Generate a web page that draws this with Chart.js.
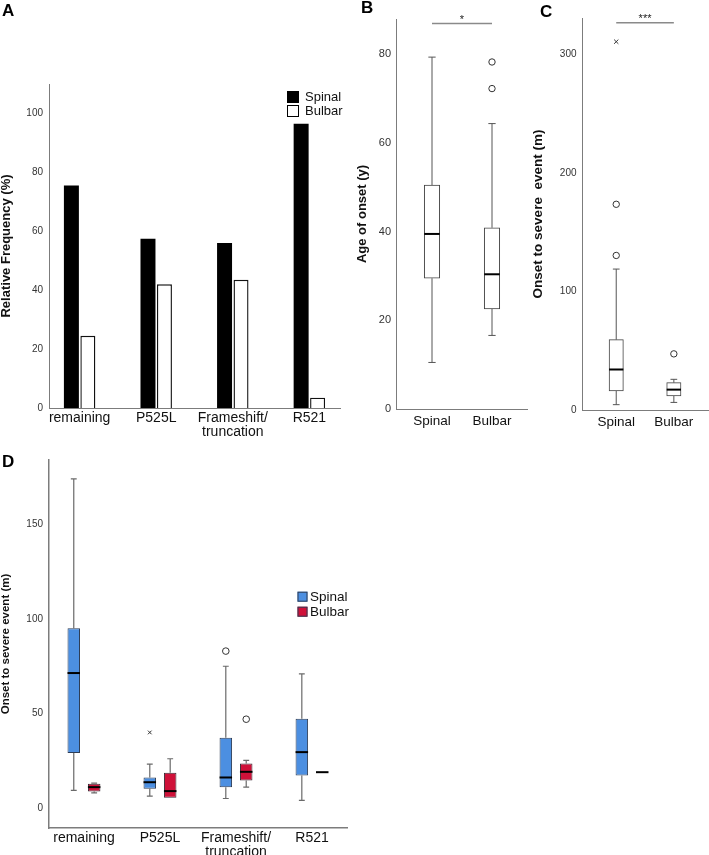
<!DOCTYPE html>
<html>
<head>
<meta charset="utf-8">
<script src="https://cdn.jsdelivr.net/npm/chart.js@4.4.1/dist/chart.umd.min.js"></script>
<style>
html,body{margin:0;padding:0;background:#fff;}
#wrap{position:relative;width:709px;height:855px;overflow:hidden;font-family:'Liberation Sans',Arial,Helvetica,sans-serif;}
canvas{position:absolute;}
.lbl{position:absolute;font-weight:bold;font-size:17px;line-height:17px;color:#000;}
</style>
</head>
<body>
<div id="wrap">
  <canvas id="cA" width="345" height="440" style="left:0;top:0"></canvas>
  <canvas id="cB" width="172" height="440" style="left:356px;top:0"></canvas>
  <canvas id="cC" width="181" height="440" style="left:528px;top:0"></canvas>
  <canvas id="cD" width="350" height="405" style="left:0;top:450px"></canvas>
  <div class="lbl" style="left:2px;top:2px">A</div>
  <div class="lbl" style="left:361px;top:-1px">B</div>
  <div class="lbl" style="left:540px;top:3px">C</div>
  <div class="lbl" style="left:2px;top:453px">D</div>
</div>
<script>
// ---------------- DATA ----------------
// Panel A: relative frequency (%)
const aCategories = ['remaining', 'P525L', 'Frameshift/truncation', 'R521'];
const aSpinal = [75.5, 57.5, 56, 96.5];
const aBulbar = [24.5, 42, 43.5, 3.5];
const aYTicks = [0, 20, 40, 60, 80, 100];

// Panel B: age of onset (y)
const bGroups = ['Spinal', 'Bulbar'];
const bMin = [10.5, 16.6];
const bQ1 = [29.5, 22.6];
const bMedian = [39.5, 30.4];
const bQ3 = [50.5, 40.9];
const bMax = [79.4, 64.4];
const bCircleGroup = [1, 1];
const bCircleValue = [78.3, 72.3];
const bYTicks = [0, 20, 40, 60, 80];

// Panel C: onset to severe event (m)
const cGroups = ['Spinal', 'Bulbar'];
const cMin = [4.5, 6.4];
const cQ1 = [16.2, 11.9];
const cMedian = [34.2, 17.2];
const cQ3 = [59.4, 23.1];
const cMax = [119, 25.9];
const cCircleGroup = [0, 0, 1];
const cCircleValue = [173.7, 130.5, 47.4];
const cCrossGroup = [0];
const cCrossValue = [311];
const cYTicks = [0, 100, 200, 300];

// Panel D: onset to severe event (m) by mutation group
const dCategories = ['remaining', 'P525L', 'Frameshift/truncation', 'R521'];
const dSpinalMin = [9.4, 6.3, 5.1, 4.1];
const dSpinalQ1 = [29.1, 10.2, 11.1, 17.3];
const dSpinalMedian = [71.4, 13.7, 16.2, 29.6];
const dSpinalQ3 = [95.1, 16.2, 37.2, 47.2];
const dSpinalMax = [174, 23.3, 75, 71];
const dBulbarMin = [8.1, 5.3, 11.1, 19];
const dBulbarQ1 = [8.8, 5.5, 14.6, 19];
const dBulbarMedian = [11.1, 9, 19.2, 19];
const dBulbarQ3 = [12.9, 18.7, 23.6, 19];
const dBulbarMax = [13.2, 26.1, 25.2, 19];
const dSpinalCircleGroup = [2];
const dSpinalCircleValue = [83];
const dSpinalCrossGroup = [1];
const dSpinalCrossValue = [40];
const dBulbarCircleGroup = [2];
const dBulbarCircleValue = [47];
const dYTicks = [0, 50, 100, 150];

// ---------------- SETUP ----------------
const FONT = "'Liberation Sans', Arial, Helvetica, sans-serif";
Chart.defaults.font.family = FONT;
Chart.defaults.color = '#222';
Chart.defaults.animation = false;
Chart.defaults.responsive = false;
Chart.defaults.devicePixelRatio = 1;
Chart.defaults.layout.autoPadding = false;
Chart.defaults.plugins.legend.display = false;
Chart.defaults.plugins.tooltip.enabled = false;

function splitLabel(s) {
  const i = s.indexOf('/');
  return i >= 0 && i < s.length - 1 ? [s.slice(0, i + 1), s.slice(i + 1)] : s;
}

// whiskers + medians for floating-bar boxes
const boxPlugin = {
  id: 'boxWhiskers',
  beforeDatasetsDraw(chart) {
    const ctx = chart.ctx, ys = chart.scales.y;
    chart.data.datasets.forEach((ds, di) => {
      if (!ds.whiskerMin) return;
      const meta = chart.getDatasetMeta(di);
      meta.data.forEach((bar, i) => {
        const x = bar.x, w = bar.width, cap = w * 0.47;
        const lo = ys.getPixelForValue(ds.whiskerMin[i]);
        const hi = ys.getPixelForValue(ds.whiskerMax[i]);
        const q1 = ys.getPixelForValue(ds.data[i].y[0]);
        const q3 = ys.getPixelForValue(ds.data[i].y[1]);
        ctx.save();
        ctx.strokeStyle = ds.whiskerColor || '#555';
        ctx.lineWidth = ds.whiskerWidth || 1;
        ctx.beginPath();
        if (q3 - hi > 0.5) {
          ctx.moveTo(x, q3); ctx.lineTo(x, hi);
          ctx.moveTo(x - cap / 2, hi); ctx.lineTo(x + cap / 2, hi);
        }
        if (lo - q1 > 0.5) {
          ctx.moveTo(x, q1); ctx.lineTo(x, lo);
          ctx.moveTo(x - cap / 2, lo); ctx.lineTo(x + cap / 2, lo);
        }
        ctx.stroke();
        ctx.restore();
      });
    });
  },
  afterDatasetsDraw(chart) {
    const ctx = chart.ctx, ys = chart.scales.y;
    chart.data.datasets.forEach((ds, di) => {
      if (!ds.median) return;
      const meta = chart.getDatasetMeta(di);
      meta.data.forEach((bar, i) => {
        const x = bar.x, w = bar.width;
        const m = ys.getPixelForValue(ds.median[i]);
        ctx.save();
        ctx.strokeStyle = '#000';
        ctx.lineWidth = 2;
        ctx.beginPath();
        ctx.moveTo(x - w / 2, m); ctx.lineTo(x + w / 2, m);
        ctx.stroke();
        ctx.restore();
      });
    });
  }
};

// legend drawn from datasets flagged inLegend
const legendPlugin = {
  id: 'panelLegend',
  afterDraw(chart, args, o) {
    if (!o || o.left === undefined) return;
    const ctx = chart.ctx;
    const items = chart.data.datasets.filter(d => d.inLegend);
    ctx.save();
    ctx.font = o.fontSize + 'px ' + FONT;
    ctx.textBaseline = 'middle';
    ctx.textAlign = 'left';
    items.forEach((d, k) => {
      const top = o.top + k * o.row;
      ctx.fillStyle = d.backgroundColor;
      ctx.fillRect(o.left, top, o.box, o.box);
      ctx.strokeStyle = o.boxBorder;
      ctx.lineWidth = 1;
      ctx.strokeRect(o.left + 0.5, top + 0.5, o.box - 1, o.box - 1);
      ctx.fillStyle = '#111';
      ctx.fillText(d.label, o.textLeft, top + o.box / 2 + 0.5);
    });
    ctx.restore();
  }
};

// significance bar
const sigPlugin = {
  id: 'sigBar',
  afterDraw(chart, args, o) {
    if (!o || o.text === undefined) return;
    const ctx = chart.ctx, xs = chart.scales.x, ys = chart.scales.y;
    const x1 = xs.getPixelForValue(o.from), x2 = xs.getPixelForValue(o.to);
    const y = ys.getPixelForValue(o.value);
    ctx.save();
    ctx.strokeStyle = '#8a8a8a';
    ctx.lineWidth = 1.5;
    ctx.beginPath(); ctx.moveTo(x1, y); ctx.lineTo(x2, y); ctx.stroke();
    ctx.fillStyle = '#222';
    ctx.font = '11px ' + FONT;
    ctx.textAlign = 'center';
    ctx.textBaseline = 'middle';
    ctx.fillText(o.text, (x1 + x2) / 2, y - 3.5);
    ctx.restore();
  }
};

function yAxis(min, max, ticks, title, titleSize, titlePad, width, tickPad, borderW, tickSize) {
  return {
    type: 'linear', min, max, bounds: 'data',
    afterBuildTicks: s => { s.ticks = ticks.map(v => ({ value: v })); },
    afterFit: s => { s.width = width; s.paddingTop = 0; s.paddingBottom = 0; s.paddingLeft = 0; s.paddingRight = 0; },
    grid: { display: false, drawTicks: false },
    border: { display: true, color: '#7c7c7c', width: borderW },
    ticks: { padding: tickPad, color: '#333', font: { size: tickSize || 10 } },
    title: { display: true, text: title, color: '#111', padding: { top: titlePad, bottom: 0 },
             font: { size: titleSize, weight: 'bold', lineHeight: 1 } }
  };
}
function xAxis(min, max, cats, height, fontSize, pad, borderW) {
  return {
    type: 'linear', min, max, bounds: 'data', offset: false,
    afterBuildTicks: s => { s.ticks = cats.map((c, i) => ({ value: i })); },
    afterFit: s => { s.height = height; s.paddingLeft = 0; s.paddingRight = 0; s.paddingTop = 0; s.paddingBottom = 0; },
    grid: { display: false, drawTicks: false, offset: false },
    border: { display: true, color: '#7c7c7c', width: borderW },
    ticks: { padding: pad, color: '#111', autoSkip: false, maxRotation: 0,
             font: { size: fontSize, lineHeight: 1 },
             callback: (v, i) => splitLabel(cats[i]) }
  };
}
function pts(groups, values, off) {
  return groups.map((g, i) => ({ x: g + (off || 0), y: values[i] }));
}

// ---------------- PANEL A ----------------
new Chart(document.getElementById('cA'), {
  type: 'bar',
  data: {
    datasets: [
      { label: 'Spinal', inLegend: true, data: aSpinal.map((v, i) => ({ x: i, y: v })),
        backgroundColor: '#000', borderColor: '#000', borderWidth: 0,
        categoryPercentage: 0.43, barPercentage: 0.91 },
      { label: 'Bulbar', inLegend: true, data: aBulbar.map((v, i) => ({ x: i, y: v })),
        backgroundColor: '#fff', borderColor: '#111', borderWidth: 1.4,
        categoryPercentage: 0.43, barPercentage: 0.91 }
    ]
  },
  options: {
    layout: { autoPadding: false, padding: { left: 0, top: 84, right: 5, bottom: 0 } },
    scales: {
      x: xAxis(-0.4, 3.4, aCategories, 32, 14, 3, 1),
      y: yAxis(0, 110, aYTicks, 'Relative Frequency (%)', 13, 0, 49, 6, 1)
    },
    plugins: {
      panelLegend: { left: 287, top: 91, box: 12, row: 14, textLeft: 305, fontSize: 13, boxBorder: '#000' }
    }
  },
  plugins: [legendPlugin]
});

// ---------------- PANEL B ----------------
new Chart(document.getElementById('cB'), {
  type: 'bar',
  data: {
    datasets: [
      { label: 'Age of onset', data: bQ1.map((q, i) => ({ x: i, y: [q, bQ3[i]] })),
        whiskerMin: bMin, whiskerMax: bMax, median: bMedian, whiskerColor: '#555',
        backgroundColor: '#fff', borderColor: '#444', borderWidth: 1, borderSkipped: false,
        barThickness: 15.5 },
      { type: 'scatter', label: 'Outliers', data: pts(bCircleGroup, bCircleValue),
        pointStyle: 'circle', radius: 3.2, backgroundColor: '#fff', borderColor: '#333', borderWidth: 1 }
    ]
  },
  options: {
    layout: { autoPadding: false, padding: { left: 0, top: 19, right: 0, bottom: 0 } },
    scales: {
      x: xAxis(-0.6, 1.6, bGroups, 31, 13.5, 6, 1),
      y: yAxis(0, 88, bYTicks, 'Age of onset (y)', 13, 0, 40, 5, 1, 11)
    },
    plugins: { sigBar: { from: 0, to: 1, value: 87, text: '*' } }
  },
  plugins: [boxPlugin, sigPlugin]
});

// ---------------- PANEL C ----------------
new Chart(document.getElementById('cC'), {
  type: 'bar',
  data: {
    datasets: [
      { label: 'Onset to severe event', data: cQ1.map((q, i) => ({ x: i, y: [q, cQ3[i]] })),
        whiskerMin: cMin, whiskerMax: cMax, median: cMedian, whiskerColor: '#555',
        backgroundColor: '#fff', borderColor: '#444', borderWidth: 1, borderSkipped: false,
        barThickness: 14.3 },
      { type: 'scatter', label: 'Outliers', data: pts(cCircleGroup, cCircleValue),
        pointStyle: 'circle', radius: 3.2, backgroundColor: '#fff', borderColor: '#333', borderWidth: 1 },
      { type: 'scatter', label: 'Extremes', data: pts(cCrossGroup, cCrossValue),
        pointStyle: 'crossRot', radius: 3, borderColor: '#333', borderWidth: 1 }
    ]
  },
  options: {
    layout: { autoPadding: false, padding: { left: 0, top: 18, right: 0, bottom: 0 } },
    scales: {
      x: xAxis(-0.594, 1.61, cGroups, 30, 13.5, 6, 1),
      y: yAxis(0, 331, cYTicks, 'Onset to severe  event (m)', 13.5, 3.5, 54, 5.5, 1)
    },
    plugins: { sigBar: { from: 0, to: 1, value: 327, text: '***' } }
  },
  plugins: [boxPlugin, sigPlugin]
});

// ---------------- PANEL D ----------------
const dCatPct = 0.537;
const dOff = dCatPct / 4;
new Chart(document.getElementById('cD'), {
  type: 'bar',
  data: {
    datasets: [
      { label: 'Spinal', inLegend: true, data: dSpinalQ1.map((q, i) => ({ x: i, y: [q, dSpinalQ3[i]] })),
        whiskerMin: dSpinalMin, whiskerMax: dSpinalMax, median: dSpinalMedian, whiskerColor: '#6a6a6a', whiskerWidth: 1.2,
        backgroundColor: '#4c8fe1', borderColor: '#2e3d55', borderWidth: 1, borderSkipped: false,
        categoryPercentage: dCatPct, barPercentage: 0.613 },
      { label: 'Bulbar', inLegend: true, data: dBulbarQ1.map((q, i) => ({ x: i, y: [q, dBulbarQ3[i]] })),
        whiskerMin: dBulbarMin, whiskerMax: dBulbarMax, median: dBulbarMedian, whiskerColor: '#6a6a6a', whiskerWidth: 1.2,
        backgroundColor: '#cf1139', borderColor: '#3a2a35', borderWidth: 1, borderSkipped: false,
        categoryPercentage: dCatPct, barPercentage: 0.613 },
      { type: 'scatter', label: 'Spinal outliers', data: pts(dSpinalCircleGroup, dSpinalCircleValue, -dOff),
        pointStyle: 'circle', radius: 3.3, backgroundColor: '#fff', borderColor: '#333', borderWidth: 1 },
      { type: 'scatter', label: 'Spinal extremes', data: pts(dSpinalCrossGroup, dSpinalCrossValue, -dOff),
        pointStyle: 'crossRot', radius: 2.6, borderColor: '#333', borderWidth: 1 },
      { type: 'scatter', label: 'Bulbar outliers', data: pts(dBulbarCircleGroup, dBulbarCircleValue, dOff),
        pointStyle: 'circle', radius: 3.3, backgroundColor: '#fff', borderColor: '#333', borderWidth: 1 }
    ]
  },
  options: {
    layout: { autoPadding: false, padding: { left: 0, top: 10, right: 3, bottom: 0 } },
    scales: {
      x: xAxis(-0.46, 3.46, dCategories, 27, 14, 3, 1.5),
      y: yAxis(-10.5, 184, dYTicks, 'Onset to severe event (m)', 11.5, 0, 49, 6, 1.5)
    },
    plugins: {
      panelLegend: { left: 297.5, top: 141.7, box: 10, row: 15, textLeft: 310, fontSize: 13.5, boxBorder: '#2e3d55' }
    }
  },
  plugins: [boxPlugin, legendPlugin]
});
</script>
</body>
</html>
